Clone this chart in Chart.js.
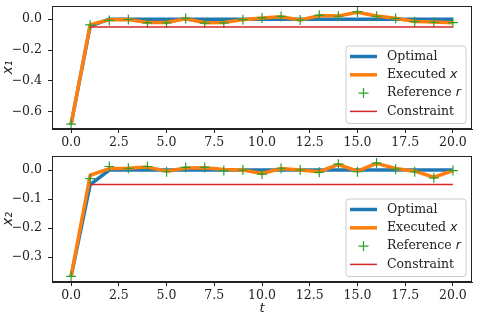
<!DOCTYPE html>
<html lang="en">
<head>
    <meta charset="UTF-8">
    <title>States x1 x2</title>
    <style>
        body {
            margin: 0;
            background: #fff;
        }
        #wrap {
            position: relative;
            width: 479px;
            height: 322px;
        }
        canvas {
            position: absolute;
            left: 0;
        }
        #top { top: 0; }
        #bottom { top: 150px; }
    </style>
</head>
<body>
    <div id="wrap">
        <canvas id="top" width="479" height="150"></canvas>
        <canvas id="bottom" width="479" height="172"></canvas>
    </div>
    <script src="https://cdn.jsdelivr.net/npm/chart.js"></script>
    <script>
        // time steps
        var t = [0,1,2,3,4,5,6,7,8,9,10,11,12,13,14,15,16,17,18,19,20];

        // state x1
        var optimalX1   = [-0.68,-0.045,0,0,0,0,0,0,0,0,0,0,0,0,0,0,0,0,0,0,0];
        var executedX1  = [-0.68,-0.035,-0.004,-0.002,-0.021,-0.022,0.003,-0.023,-0.022,-0.003,0.008,0.016,-0.005,0.023,0.02,0.045,0.02,0.006,-0.015,-0.019,-0.023];
        var referenceX1 = [-0.68,-0.037,-0.008,-0.002,-0.024,-0.024,0.005,-0.025,-0.024,-0.003,0.008,0.018,-0.006,0.025,0.019,0.047,0.019,0.005,-0.016,-0.02,-0.022];

        // state x2
        var optimalX2   = [-0.366,-0.05,0,0,0,0,0,0,0,0,0,0,0,0,0,0,0,0,0,0,0];
        var executedX2  = [-0.366,-0.018,0.005,0.006,0.01,-0.004,0.007,0.008,0.002,0.0,-0.012,0.005,0.0,-0.006,0.019,-0.004,0.023,0.005,-0.004,-0.025,-0.002];
        var referenceX2 = [-0.366,-0.03,0.012,0.006,0.012,-0.006,0.009,0.009,-0.002,0.0,-0.014,0.006,0.0,-0.008,0.02,-0.006,0.024,0.003,-0.006,-0.027,-0.002];

        // constraint line
        var constraintT = [1, 20];
        var constraintY = [-0.05, -0.05];

        // tick labels
        var xTicks  = [0, 2.5, 5, 7.5, 10, 12.5, 15, 17.5, 20];
        var y1Ticks = [0, -0.2, -0.4, -0.6];
        var y2Ticks = [0, -0.1, -0.2, -0.3];

        var BLUE = '#1f77b4', ORANGE = '#ff7f0e', GREEN = '#2ca02c', RED = '#d62728';
        var INK = '#222';
        var serif = 'DejaVu Serif';

        function pts(xs, ys) {
            return xs.map(function(x, i) { return {x: x, y: ys[i]}; });
        }

        function fmt(v) {
            return (v < -1e-9 ? '\u2212' : '') + Math.abs(v).toFixed(1);
        }

        // box around the plot area, like matplotlib spines
        var framePlugin = {
            id: 'frame',
            afterDatasetsDraw: function(chart) {
                var a = chart.chartArea, ctx = chart.ctx;
                ctx.save();
                ctx.strokeStyle = INK;
                ctx.lineWidth = 1;
                ctx.strokeRect(Math.round(a.left) + 0.5, Math.round(a.top) + 0.5,
                    Math.round(a.right - a.left) - 1, Math.round(a.bottom - a.top) - 1);
                ctx.restore();
            }
        };

        // legend in the lower right corner of the axes
        var legendPlugin = {
            id: 'boxLegend',
            afterDraw: function(chart) {
                var a = chart.chartArea, ctx = chart.ctx;
                var w = 120, h = 77.5;
                var bx = a.right - 6 - w, by = a.bottom - 5.5 - h;
                ctx.save();
                ctx.beginPath();
                ctx.roundRect(bx, by, w, h, 3);
                ctx.fillStyle = 'rgba(255,255,255,0.8)';
                ctx.fill();
                ctx.strokeStyle = '#cccccc';
                ctx.lineWidth = 1;
                ctx.stroke();

                var rows = [10.5, 28.8, 47.1, 65.4];
                var lx0 = bx + 4, lx1 = bx + 31, tx = bx + 41;
                ctx.lineCap = 'butt';
                // Optimal
                ctx.strokeStyle = BLUE; ctx.lineWidth = 3.5;
                ctx.beginPath(); ctx.moveTo(lx0, by + rows[0]); ctx.lineTo(lx1, by + rows[0]); ctx.stroke();
                // Executed
                ctx.strokeStyle = ORANGE; ctx.lineWidth = 3.5;
                ctx.beginPath(); ctx.moveTo(lx0, by + rows[1]); ctx.lineTo(lx1, by + rows[1]); ctx.stroke();
                // Reference marker
                var cx = (lx0 + lx1) / 2, cy = by + rows[2];
                ctx.strokeStyle = GREEN; ctx.lineWidth = 1.2;
                ctx.beginPath();
                ctx.moveTo(cx - 5, cy); ctx.lineTo(cx + 5, cy);
                ctx.moveTo(cx, cy - 5); ctx.lineTo(cx, cy + 5);
                ctx.stroke();
                // Constraint
                ctx.strokeStyle = RED; ctx.lineWidth = 1.5;
                ctx.beginPath(); ctx.moveTo(lx0, by + rows[3]); ctx.lineTo(lx1, by + rows[3]); ctx.stroke();

                ctx.fillStyle = INK;
                ctx.textBaseline = 'middle';
                ctx.font = '12.5px "' + serif + '"';
                ctx.fillText('Optimal', tx, by + rows[0]);
                ctx.fillText('Executed ', tx, by + rows[1]);
                var w1 = ctx.measureText('Executed ').width;
                ctx.fillText('Reference ', tx, by + rows[2]);
                var w2 = ctx.measureText('Reference ').width;
                ctx.fillText('Constraint', tx, by + rows[3]);
                ctx.font = 'italic 12.5px "DejaVu Sans"';
                ctx.fillText('x', tx + w1, by + rows[1]);
                ctx.fillText('r', tx + w2, by + rows[2]);
                ctx.restore();
            }
        };

        function makeChart(id, opt, exe, ref, yTicks, yMin, yMax, yTitle, padTop, xHeight, showT) {
            var tickFont = {family: serif, size: 12.5};
            var config = {
                type: 'line',
                data: {
                    datasets: [
                        {label: 'Optimal', data: pts(t, opt), borderColor: BLUE, borderWidth: 3.5,
                         pointRadius: 0, order: 4},
                        {label: 'Executed x', data: pts(t, exe), borderColor: ORANGE, borderWidth: 3.5,
                         pointRadius: 0, order: 3},
                        {label: 'Reference r', data: pts(t, ref), showLine: false, pointStyle: 'cross',
                         pointRadius: 5, pointBorderWidth: 1.2, pointBorderColor: GREEN,
                         pointBackgroundColor: GREEN, order: 2},
                        {label: 'Constraint', data: pts(constraintT, constraintY), borderColor: RED,
                         borderWidth: 1.5, pointRadius: 0, order: 1}
                    ]
                },
                options: {
                    responsive: false,
                    animation: false,
                    devicePixelRatio: 1,
                    events: [],
                    layout: {padding: {top: padTop, right: 7, left: 0, bottom: 0}},
                    plugins: {legend: {display: false}, tooltip: {enabled: false}},
                    elements: {line: {tension: 0, borderCapStyle: 'butt', borderJoinStyle: 'round'}},
                    scales: {
                        x: {
                            type: 'linear', min: -1, max: 21,
                            grid: {drawOnChartArea: false, drawTicks: true, tickLength: 4, tickColor: INK},
                            border: {color: INK, width: 1},
                            ticks: {font: tickFont, color: INK, padding: 2, maxRotation: 0, autoSkip: false,
                                    callback: function(v) { return fmt(v); }},
                            title: {display: showT, text: 't', color: INK, padding: {top: 0, bottom: 6},
                                    font: {family: 'DejaVu Sans', size: 13, style: 'italic'}},
                            afterBuildTicks: function(s) { s.ticks = xTicks.map(function(v) { return {value: v}; }); },
                            afterFit: function(s) {
                                s.height = xHeight;
                                s.paddingLeft = 0; s.paddingRight = 0;
                            }
                        },
                        y: {
                            type: 'linear', min: yMin, max: yMax,
                            grid: {drawOnChartArea: false, drawTicks: true, tickLength: 4, tickColor: INK},
                            border: {color: INK, width: 1},
                            ticks: {font: tickFont, color: INK, padding: 6, autoSkip: false,
                                    callback: function(v) { return fmt(v); }},
                            title: {display: true, text: yTitle, color: INK, padding: {top: 0, bottom: 0},
                                    font: {family: 'DejaVu Sans', size: 14, style: 'italic'}},
                            afterBuildTicks: function(s) { s.ticks = yTicks.map(function(v) { return {value: v}; }); },
                            afterFit: function(s) {
                                s.width = 52;
                                s.paddingTop = 0; s.paddingBottom = 0;
                            }
                        }
                    }
                },
                plugins: [framePlugin, legendPlugin]
            };
            return new Chart(document.getElementById(id).getContext('2d'), config);
        }

        makeChart('top', optimalX1, executedX1, referenceX1, y1Ticks, -0.711, 0.084, 'x\u2081', 3, 21, false);
        makeChart('bottom', optimalX2, executedX2, referenceX2, y2Ticks, -0.3855, 0.0475, 'x\u2082', 5, 40, true);
    </script>
</body>
</html>
